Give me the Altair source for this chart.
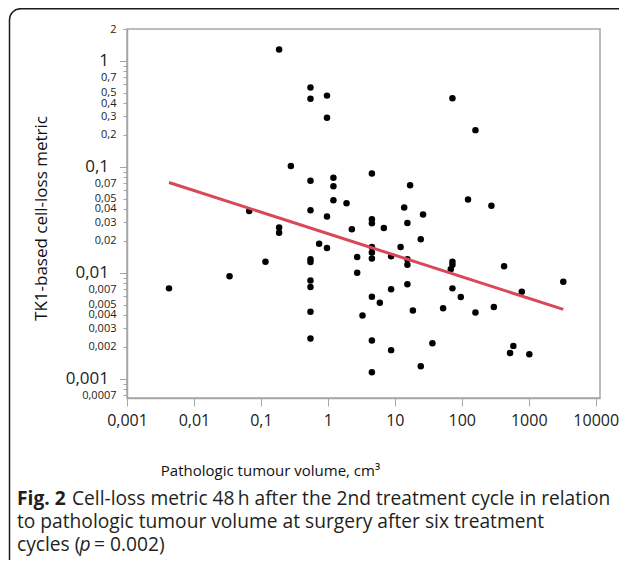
import altair as alt
import pandas as pd

# --- data -------------------------------------------------------------------
volume = [0.187, 0.55, 0.55, 0.97, 0.97, 0.28, 0.55, 1.21, 1.21, 4.54,
          1.21, 1.90, 0.55, 0.0668, 0.97, 0.187, 0.187, 4.54, 4.54, 6.85,
          2.28, 0.74, 0.97, 4.54, 4.54, 4.54, 2.74, 8.8, 12.2, 0.117,
          0.55, 0.55, 0.034, 0.00424, 2.74, 0.55, 0.55, 8.8, 4.54, 5.97,
          3.29, 0.55, 0.55, 4.54, 8.8, 4.54, 16.9, 13.8, 26.4, 15.4,
          24.4, 15.4, 15.4, 124, 277, 72.5, 72.5, 68.5, 428, 3280,
          787, 15.4, 72.5, 96.6, 18.6, 52.6, 160, 301, 36.4, 24.4,
          589, 526, 1020, 72.5, 160]
metric = [1.28, 0.56, 0.44, 0.47, 0.29, 0.102, 0.0737, 0.0787, 0.0657, 0.0866,
          0.0484, 0.0454, 0.0389, 0.0383, 0.034, 0.0267, 0.0239, 0.032, 0.0293, 0.0265,
          0.0257, 0.0188, 0.0171, 0.0175, 0.0155, 0.0136, 0.0141, 0.0143, 0.0175, 0.0127,
          0.0134, 0.0126, 0.00925, 0.00712, 0.0100, 0.00847, 0.00733, 0.00697, 0.00594, 0.00521,
          0.00395, 0.00428, 0.0024, 0.00229, 0.00186, 0.00115, 0.0671, 0.0413, 0.0355, 0.0295,
          0.0207, 0.0134, 0.0119, 0.0491, 0.0428, 0.0127, 0.0119, 0.0108, 0.0115, 0.00824,
          0.00663, 0.00777, 0.00712, 0.00589, 0.00441, 0.00463, 0.00422, 0.00474, 0.00216, 0.00131,
          0.00204, 0.00175, 0.0017, 0.444, 0.222]

fit_volume = [0.00424, 3280]
fit_metric = [0.0711, 0.00451]

x_ticks = [0.001, 0.01, 0.1, 1, 10, 100, 1000, 10000]
y_ticks = [0.0007, 0.0008, 0.0009,
           0.001, 0.002, 0.003, 0.004, 0.005, 0.006, 0.007, 0.008, 0.009,
           0.01, 0.02, 0.03, 0.04, 0.05, 0.06, 0.07, 0.08, 0.09,
           0.1, 0.2, 0.3, 0.4, 0.5, 0.6, 0.7, 0.8, 0.9,
           1, 2]
y_labelled = [2, 1, 0.7, 0.5, 0.4, 0.3, 0.2, 0.1, 0.07, 0.05, 0.04, 0.03,
              0.02, 0.01, 0.007, 0.005, 0.004, 0.003, 0.002, 0.001, 0.0007]
y_major = [1, 0.1, 0.01, 0.001]

x_title = "Pathologic tumour volume, cm\u00b3"
y_title = "TK1-based cell-loss metric"
cap_bold = "Fig. 2"
cap_line1 = "Cell-loss metric 48\u2009h after the 2nd treatment cycle in relation"
cap_line2 = "to pathologic tumour volume at surgery after six treatment"
cap_line3a = "cycles ("
cap_line3b = "p"
cap_line3c = "= 0.002)"

# --- chart ------------------------------------------------------------------
FONT = "Open Sans"
CAP = 19.2
W, H = 473, 369
XDOM = [0.001, 11590]
YDOM = [0.000657, 2]

pts = pd.DataFrame({"volume": volume, "metric": metric})
fit = pd.DataFrame({"volume": fit_volume, "metric": fit_metric})
one = pd.DataFrame({"k": [0]})

def lit(vals):
    return "[" + ",".join(repr(v) for v in vals) + "]"

major_test = f"indexof({lit(y_major)}, datum.value) >= 0"

xscale = alt.Scale(type="log", domain=XDOM, nice=False)
yscale = alt.Scale(type="log", domain=YDOM, nice=False)

xaxis = alt.Axis(
    values=x_ticks, grid=False, title=x_title,
    labelExpr="replace(format(datum.value, '~g'), '.', ',')",
    labelFont=FONT, labelFontSize=16, labelColor="#222222", labelPadding=6,
    tickSize=8, tickColor="#a6a6a6", domainColor="#a6a6a6", domainWidth=1.5,
    titleFont=FONT, titleFontSize=15, titleFontWeight="normal", titleColor="#111111",
    titleX=143, titleY=77, titleAlign="center", titleBaseline="alphabetic",
    labelFlush=False, labelOverlap=False,
)
yaxis = alt.Axis(
    values=y_ticks, grid=False, title=y_title,
    labelExpr=f"indexof({lit(y_labelled)}, datum.value) >= 0 ? replace(format(datum.value, '~g'), '.', ',') : ''",
    labelFont=FONT,
    labelFontSize={"condition": {"test": major_test, "value": 17}, "value": 11},
    labelPadding={"condition": {"test": major_test, "value": 11}, "value": 7},
    tickSize={"condition": {"test": major_test, "value": 7.5}, "value": 4},
    labelColor="#222222", labelOverlap=False, labelFlush=False,
    tickColor="#a6a6a6", domainColor="#a6a6a6", domainWidth=1.5,
    titleFont=FONT, titleFontSize=17, titleFontWeight="normal", titleColor="#111111",
    titleX=-86, titleY=189, titleAngle=270, titleAlign="center", titleBaseline="middle",
)

frame = alt.Chart(one).mark_rect(
    fillOpacity=0, stroke="#1a1a1a", strokeWidth=1.5, cornerRadius=11
).encode(x=alt.value(-117.5), x2=alt.value(540), y=alt.value(-20.3), y2=alt.value(560))

points = alt.Chart(pts).mark_circle(size=42, color="black", opacity=1).encode(
    x=alt.X("volume:Q", scale=xscale, axis=xaxis),
    y=alt.Y("metric:Q", scale=yscale, axis=yaxis),
)

line = alt.Chart(fit).mark_line(color="#d9475a", strokeWidth=3).encode(
    x=alt.X("volume:Q", scale=xscale),
    y=alt.Y("metric:Q", scale=yscale),
)

def txt(s, x, y, weight="normal", style="normal"):
    return alt.Chart(one).mark_text(
        text=s, font=FONT, fontSize=CAP, fontWeight=weight, fontStyle=style,
        align="left", baseline="alphabetic", color="#231f20"
    ).encode(x=alt.value(x), y=alt.value(y))

caption = [
    txt(cap_bold, -110, 476, weight="bold"),
    txt(cap_line1, -55, 476),
    txt(cap_line2, -110, 499),
    txt(cap_line3a, -110, 522),
    txt(cap_line3b, -47.5, 522, style="italic"),
    txt(cap_line3c, -33, 522),
]

chart = alt.layer(frame, points, line, *caption).properties(
    width=W, height=H,
    autosize=alt.AutoSizeParams(type="none"),
    padding={"left": 119, "top": 21, "right": 19, "bottom": 162},
).configure_view(stroke="#a6a6a6", strokeWidth=1.5)

chart.save("out.html", embed_options={"renderer": "svg", "actions": False})
